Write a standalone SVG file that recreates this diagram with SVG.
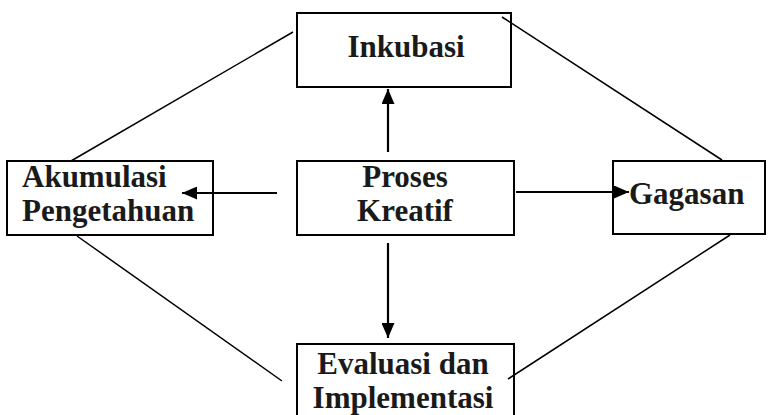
<svg xmlns="http://www.w3.org/2000/svg" width="769" height="415" viewBox="0 0 769 415">
<style>
.box{fill:#fff;stroke:#000;stroke-width:2}
.t{font-family:"Liberation Serif","Times New Roman",serif;font-weight:bold;font-size:31px;fill:#1a1a1a}
.d{stroke:#000;stroke-width:1.5;fill:none}
.a{stroke:#000;stroke-width:2.2;fill:none;marker-end:url(#ah)}
</style>
<defs>
<marker id="ah" viewBox="0 0 15 13" refX="15" refY="6.5" markerWidth="15" markerHeight="13" orient="auto" markerUnits="userSpaceOnUse">
<path d="M0,0 L15,6.5 L0,13 z" fill="#000"/>
</marker>
</defs>
<g id="inkubasi">
<rect class="box" x="297" y="13" width="214" height="74"/>
<text class="t" x="406" y="57" text-anchor="middle">Inkubasi</text>
</g>
<g id="akumulasi">
<rect class="box" x="7" y="161" width="206" height="74"/>
<text class="t" x="22" y="187">Akumulasi</text>
<text class="t" x="22" y="221">Pengetahuan</text>
</g>
<g id="proses">
<rect class="box" x="297" y="161" width="217" height="74"/>
<text class="t" x="405" y="187" text-anchor="middle">Proses</text>
<text class="t" x="405" y="221" text-anchor="middle">Kreatif</text>
</g>
<g id="gagasan">
<rect class="box" x="613" y="161" width="152" height="73"/>
<text class="t" x="629" y="204">Gagasan</text>
</g>
<g id="evaluasi">
<rect class="box" x="297" y="344" width="217" height="74"/>
<text class="t" x="403" y="374" text-anchor="middle">Evaluasi dan</text>
<text class="t" x="403" y="408" text-anchor="middle">Implementasi</text>
</g>
<g id="connectors">
<line class="d" x1="293" y1="32" x2="71" y2="161"/>
<line class="d" x1="502" y1="17" x2="722" y2="160"/>
<line class="d" x1="77" y1="236" x2="282" y2="381"/>
<line class="d" x1="508" y1="379" x2="730" y2="235"/>
<line class="a" x1="388" y1="152" x2="388" y2="89"/>
<line class="a" x1="277" y1="193" x2="182" y2="193"/>
<line class="a" x1="516" y1="192" x2="629" y2="192"/>
<line class="a" x1="388" y1="243" x2="388" y2="338"/>
</g>
</svg>
